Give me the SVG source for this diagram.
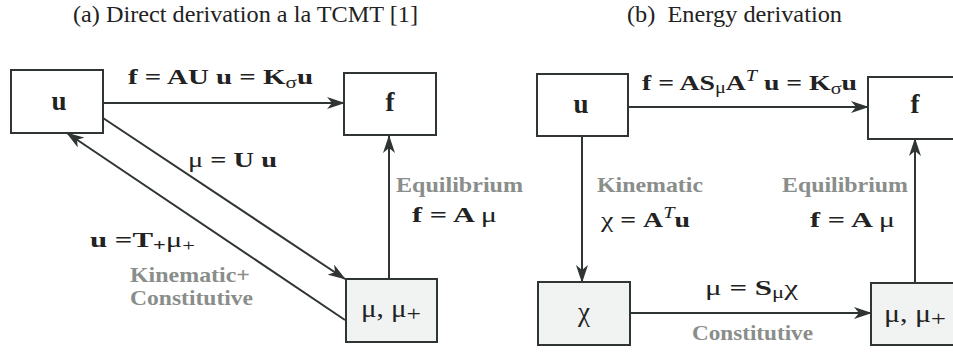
<svg xmlns="http://www.w3.org/2000/svg" width="953" height="352" viewBox="0 0 953 352" font-family="'Liberation Serif', 'Times New Roman', 'DejaVu Serif', serif">
<defs>
<style>
text{font-family:'Liberation Serif','Times New Roman','DejaVu Serif',serif}
.box{fill:#ffffff;stroke:#2f3533;stroke-width:2}
.boxg{fill:#f1f2f2;stroke:#2f3533;stroke-width:2}
.ln{stroke:#2f3533;stroke-width:2;fill:none;marker-end:url(#ah)}
.title{font-size:23px;fill:#222}
.eq{font-size:22px;font-weight:bold;fill:#222}
.gr{font-size:21px;font-weight:bold;fill:#8a8e8b}
.gk{font-weight:normal}
.nd{font-size:27px;fill:#222;text-anchor:middle}
.ndm{font-size:25px;fill:#222}
.sub{font-size:16px}
</style>
<marker id="ah" viewBox="0 0 18 12" refX="17" refY="6" markerWidth="18" markerHeight="12" markerUnits="userSpaceOnUse" orient="auto">
<path d="M0,0 L18,6 L0,12 L5,6 z" fill="#2f3533"/>
</marker>
</defs>

<text class="title" x="73" y="22" textLength="345" lengthAdjust="spacingAndGlyphs">(a) Direct derivation a la TCMT [1]</text>
<text class="title" x="627" y="22" xml:space="preserve" textLength="215" lengthAdjust="spacingAndGlyphs">(b)  Energy derivation</text>

<g id="connectors">
<line class="ln" x1="103" y1="103" x2="344" y2="103"/>
<line class="ln" x1="103" y1="118" x2="345" y2="279"/>
<line class="ln" x1="345" y1="320" x2="67" y2="133"/>
<line class="ln" x1="389" y1="279" x2="389" y2="136"/>
<line class="ln" x1="628" y1="107" x2="868" y2="107"/>
<line class="ln" x1="582" y1="136" x2="582" y2="282"/>
<line class="ln" x1="630" y1="313" x2="871" y2="313"/>
<line class="ln" x1="915" y1="283" x2="915" y2="139"/>
</g>

<g id="a-u">
<rect class="box" x="11" y="70" width="92" height="63"/>
<text class="nd" x="59" y="110" font-weight="bold">u</text>
</g>
<g id="a-f">
<rect class="box" x="344" y="73" width="92" height="62"/>
<text class="nd" x="390" y="111" font-weight="bold">f</text>
</g>
<g id="a-mu">
<rect class="boxg" x="346" y="279" width="91" height="63"/>
<text class="ndm" x="361" y="317" textLength="60" lengthAdjust="spacingAndGlyphs">μ, μ<tspan dy="4" font-size="22">+</tspan></text>
</g>

<g id="b-u">
<rect class="box" x="537" y="74" width="91" height="62"/>
<text class="nd" x="581" y="113" font-weight="bold">u</text>
</g>
<g id="b-f">
<rect class="box" x="868" y="77" width="94" height="62"/>
<text class="nd" x="915" y="113" font-weight="bold">f</text>
</g>
<g id="b-chi">
<rect class="boxg" x="538" y="282" width="92" height="63"/>
<text class="nd" x="584" y="321">χ</text>
</g>
<g id="b-mu">
<rect class="boxg" x="871" y="283" width="92" height="62"/>
<text class="ndm" x="884" y="322" textLength="62" lengthAdjust="spacingAndGlyphs">μ, μ<tspan dy="4" font-size="22">+</tspan></text>
</g>

<g id="labels">
<text class="eq" x="128" y="84" textLength="185" lengthAdjust="spacingAndGlyphs">f = AU u = K<tspan class="sub gk" dy="4">σ</tspan><tspan dy="-4">u</tspan></text>
<text class="eq" x="188" y="167" textLength="89" lengthAdjust="spacingAndGlyphs"><tspan class="gk">μ</tspan> = U u</text>
<text class="eq" x="90" y="247" textLength="105" lengthAdjust="spacingAndGlyphs">u =T<tspan class="sub" dy="4">+</tspan><tspan class="gk" dy="-4">μ</tspan><tspan class="sub gk" dy="4">+</tspan></text>
<text class="gr" x="130" y="282" textLength="120" lengthAdjust="spacingAndGlyphs">Kinematic+</text>
<text class="gr" x="130" y="305" textLength="123" lengthAdjust="spacingAndGlyphs">Constitutive</text>
<text class="gr" x="396" y="192" textLength="127" lengthAdjust="spacingAndGlyphs">Equilibrium</text>
<text class="eq" x="412" y="222" textLength="85" lengthAdjust="spacingAndGlyphs">f = A <tspan class="gk">μ</tspan></text>

<text class="eq" x="642" y="90" textLength="215" lengthAdjust="spacingAndGlyphs">f = AS<tspan class="sub gk" dy="3">μ</tspan><tspan dy="-3">A</tspan><tspan class="sub" font-style="italic" font-weight="normal" dy="-9">T</tspan><tspan dy="9"> u = K</tspan><tspan class="sub gk" dy="4">σ</tspan><tspan dy="-4">u</tspan></text>
<text class="gr" x="597" y="192" textLength="106" lengthAdjust="spacingAndGlyphs">Kinematic</text>
<text class="eq" x="601" y="227" textLength="89" lengthAdjust="spacingAndGlyphs"><tspan class="gk">χ</tspan> = A<tspan class="sub" font-style="italic" font-weight="normal" dy="-9">T</tspan><tspan dy="9">u</tspan></text>
<text class="gr" x="782" y="192" textLength="126" lengthAdjust="spacingAndGlyphs">Equilibrium</text>
<text class="eq" x="810" y="227" textLength="85" lengthAdjust="spacingAndGlyphs">f = A <tspan class="gk">μ</tspan></text>
<text class="eq" x="705" y="295" textLength="93" lengthAdjust="spacingAndGlyphs"><tspan class="gk">μ</tspan> = S<tspan class="sub gk" dy="3">μ</tspan><tspan class="gk" dy="-3">χ</tspan></text>
<text class="gr" x="692" y="340" textLength="121" lengthAdjust="spacingAndGlyphs">Constitutive</text>
</g>
</svg>
